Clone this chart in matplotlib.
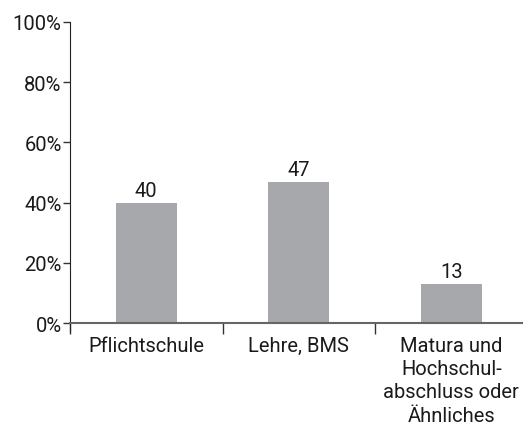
import matplotlib
matplotlib.use("Agg")
import matplotlib.pyplot as plt
import numpy as np

categories = ["Pflichtschule", "Lehre, BMS", "Matura und\nHochschul-\nabschluss oder\nÄhnliches"]
values = [40, 47, 13]
yticks = [0, 20, 40, 60, 80, 100]
ytick_labels = ["0%", "20%", "40%", "60%", "80%", "100%"]

plt.rcParams['font.family'] = ['Roboto', 'DejaVu Sans']

fig = plt.figure(figsize=(5.23, 4.31), dpi=100)
W, H = 523, 431
ax = fig.add_axes([70 / W, 1 - 324 / H, (523 - 70) / W, (324 - 23) / H])

x = np.arange(len(categories))
ax.bar(x, values, width=0.4, color="#a7a8ab", zorder=2)
for xi, v in zip(x, values):
    ax.text(xi, v + 1.0, str(v), ha="center", va="bottom", fontsize=14.5, color="#1a1a1a")

ax.set_xlim(-0.5, 2.47)
ax.set_ylim(0, 100)
ax.set_yticks(yticks)
ax.set_yticklabels(ytick_labels, fontsize=14.5, color="#1a1a1a")
ax.set_xticks(x)
ax.set_xticklabels(categories, fontsize=14.5, color="#1a1a1a", linespacing=1.3, va="top")
ax.set_xticks([-0.5, 0.5, 1.5], minor=True)
ax.tick_params(axis="x", which="major", length=0, pad=9)
ax.tick_params(axis="x", which="minor", length=8, width=1, color="#333333", direction="out")
ax.tick_params(axis="y", length=5, width=1, color="#333333", pad=1)

for s in ["top", "right"]:
    ax.spines[s].set_visible(False)
ax.spines["left"].set_color("#222222")
ax.spines["left"].set_bounds(-2.8, 100)
ax.spines["bottom"].set_color("#666666")
ax.spines["bottom"].set_linewidth(1.5)

fig.savefig("out.png", dpi=100)
